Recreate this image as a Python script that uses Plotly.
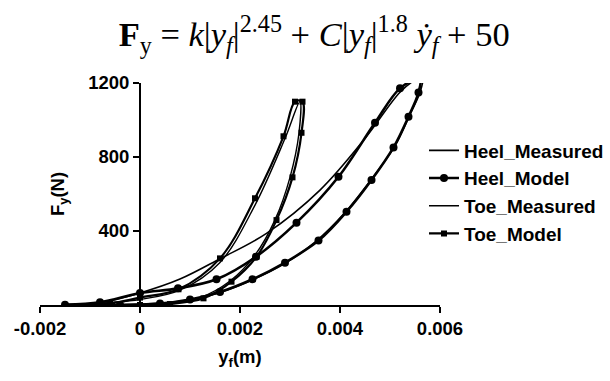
import plotly.graph_objects as go

# Heel model (loop: loading branch then unloading branch)
heel_model_x = [-0.0015, -0.0008, 0.0, 0.00076, 0.00153, 0.00232, 0.00313, 0.00397, 0.0047, 0.0052, 0.0056,
                0.00557, 0.00537, 0.00507, 0.00463, 0.00413, 0.00357, 0.0029, 0.00225, 0.0016, 0.001, 0.0004, -0.0004]
heel_model_y = [2, 15, 65, 90, 139, 261, 445, 693, 985, 1171, 1225,
                1148, 1018, 852, 676, 504, 348, 229, 139, 70, 30, 8, 0]

heel_meas_x = [-0.0015, -0.0008, 0.0, 0.0008, 0.0016, 0.00253, 0.0036, 0.0045, 0.0052, 0.0055, 0.00565,
               0.0056, 0.0054, 0.0051, 0.0046, 0.0041, 0.0035, 0.0029, 0.0022, 0.0015, 0.0008, 0.0, -0.0008]
heel_meas_y = [0, 12, 65, 140, 250, 387, 621, 900, 1150, 1215, 1225,
               1150, 1030, 860, 670, 500, 340, 225, 130, 60, 20, 5, 0]

toe_model_x = [-0.0015, -0.0006, 0.0, 0.00077, 0.0016, 0.0023, 0.00287, 0.0031, 0.00325,
               0.00323, 0.00305, 0.00273, 0.00233, 0.00183, 0.00127, 0.0006, 0.0, -0.0006]
toe_model_y = [0, 8, 40, 85, 252, 577, 912, 1099, 1099,
               931, 690, 459, 261, 126, 36, 5, 0, 0]

toe_meas_x = [-0.0015, 0.0, 0.0008, 0.0016, 0.0023, 0.0029, 0.0032,
              0.00318, 0.003, 0.0027, 0.0023, 0.0018, 0.0012, 0.0006, 0.0]
toe_meas_y = [0, 30, 80, 230, 540, 900, 1100,
              930, 690, 460, 270, 130, 40, 8, 0]

x_ticks = [-0.002, 0, 0.002, 0.004, 0.006]
x_tick_labels = ["-0.002", "0", "0.002", "0.004", "0.006"]
y_ticks = [0, 400, 800, 1200]
y_tick_labels = ["", "400", "800", "1200"]

fig = go.Figure()
fig.add_trace(go.Scatter(x=heel_meas_x, y=heel_meas_y, name="Heel_Measured", mode="lines",
                         line=dict(color="black", width=1.6, shape="spline")))
fig.add_trace(go.Scatter(x=heel_model_x, y=heel_model_y, name="Heel_Model", mode="lines+markers",
                         line=dict(color="black", width=2.6, shape="spline"),
                         marker=dict(symbol="circle", size=8, color="black")))
fig.add_trace(go.Scatter(x=toe_meas_x, y=toe_meas_y, name="Toe_Measured", mode="lines",
                         line=dict(color="black", width=1.4, shape="spline")))
fig.add_trace(go.Scatter(x=toe_model_x, y=toe_model_y, name="Toe_Model", mode="lines+markers",
                         line=dict(color="black", width=2.2, shape="spline"),
                         marker=dict(symbol="square", size=6, color="black")))

tickf = dict(family="Liberation Sans", size=18.5, color="black", weight="bold")
legf = dict(family="Liberation Sans", size=19, color="black", weight="bold")

fig.update_layout(
    width=610, height=381,
    margin=dict(l=40, r=170, t=83, b=76, autoexpand=False),
    paper_bgcolor="white", plot_bgcolor="white",
    showlegend=True,
    legend=dict(x=424 / 610, y=1 - 192 / 381, xref="container", yref="container",
                xanchor="left", yanchor="middle", font=legf,
                bgcolor="rgba(0,0,0,0)", tracegroupgap=0),
    title=dict(text="<b>F</b><sub>y</sub> = <i>k</i>|<i>y<sub>f</sub></i>|<sup>2.45</sup> + <i>C</i>|<i>y<sub>f</sub></i>|<sup>1.8</sup> <i>ẏ<sub>f</sub></i> + 50",
               x=0.515, xref="container", xanchor="center", y=0.91, yref="container", yanchor="middle",
               font=dict(family="Liberation Serif", size=34.5, color="black")),
    xaxis=dict(range=[-0.002, 0.006], tickvals=x_ticks, ticktext=x_tick_labels, automargin=False,
               showgrid=False, zeroline=False, showline=True, linecolor="black", linewidth=2,
               ticks="outside", ticklen=6, tickwidth=2, tickcolor="black",
               tickfont=tickf,
               title=dict(text="y<sub>f</sub>(m)", font=tickf, standoff=12)),
    yaxis=dict(range=[0, 1200], tickvals=y_ticks, ticktext=y_tick_labels, automargin=False,
               anchor="free", position=0.25,
               showgrid=False, zeroline=False, showline=True, linecolor="black", linewidth=2,
               ticks="outside", ticklen=6, tickwidth=2, tickcolor="black",
               tickfont=tickf,
               title=dict(text="F<sub>y</sub>(N)", font=tickf, standoff=18)),
)

fig.write_html("out.html", config={"displayModeBar": False},
               post_script="document.body.style.margin='0';document.body.style.overflow='hidden';")
